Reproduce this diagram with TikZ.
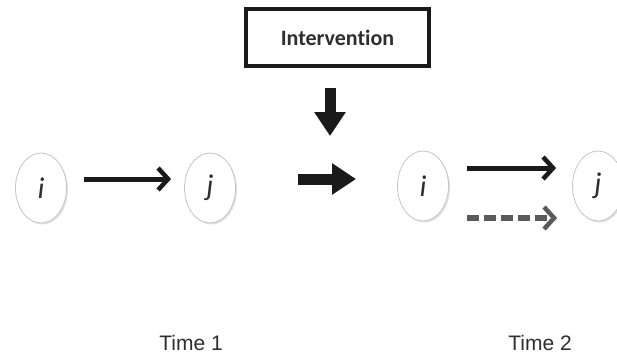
\documentclass[tikz,border=0pt]{standalone}
\usepackage{fontspec}
\setmainfont{Liberation Sans}
\newfontfamily\carlito[Ligatures={NoCommon,NoRare,NoContextual}]{Carlito}
\usetikzlibrary{arrows.meta,shapes.geometric,shadows,calc}
\definecolor{ink}{HTML}{1A1A1A}
\definecolor{txt}{HTML}{2E2E2E}
\definecolor{dashgray}{HTML}{5A5A5A}
\tikzset{
  oval/.style={ellipse, draw=gray!45, line width=0.8pt, fill=white, minimum width=51pt, minimum height=70pt, inner sep=0pt,
    drop shadow={shadow xshift=1.5pt, shadow yshift=-1.5pt, opacity=0.25, fill=gray},
    font=\carlito\itshape\fontsize{30}{30}\selectfont, text=txt},
  thinarrow/.style={draw=ink, line width=5pt, -{Straight Barb[length=10pt,width=22pt,line width=4.5pt]}},
  dasharrow/.style={draw=dashgray, line width=5.5pt, dash pattern=on 12pt off 5pt, -{Straight Barb[length=10pt,width=22pt,line width=4.5pt]}},
  bigarrow/.style={draw=ink, line width=11pt, -{Triangle[length=24pt,width=30pt]}},
  timelabel/.style={font=\fontsize{21}{21}\selectfont, text=txt},
  interbox/.style={draw=ink, line width=4pt, minimum width=183pt, minimum height=57pt, font=\carlito\bfseries\fontsize{22}{22}\selectfont, text=txt}
}
\begin{document}
\begin{tikzpicture}[x=1pt,y=-1pt]
\useasboundingbox (0,0) rectangle (617,357);
\node[oval] (i1) at (41,188) {i};
\node[oval] (j1) at (210,188) {j};
\node[oval] (i2) at (423,186) {i};
\node[oval] (j2) at (598,186) {j};
\node[interbox] (box) at (337.5,37.5) {Intervention};
\coordinate (dtop) at (330,88);
\coordinate (dbot) at (330,136);
\coordinate (hl) at (298,179);
\coordinate (hr) at (356,179);
\draw[bigarrow] (dtop) -- (dbot);
\draw[bigarrow] (hl) -- (hr);
\draw[thinarrow, shorten <=17pt, shorten >=13pt] ([yshift=9pt]i1.east) -- ([yshift=9pt]j1.west);
\draw[thinarrow, shorten <=18pt, shorten >=16pt] ([yshift=18pt]i2.east) -- ([yshift=18pt]j2.west);
\draw[dasharrow, shorten <=18pt, shorten >=15pt] ([yshift=-32pt]i2.east) -- ([yshift=-32pt]j2.west);
\node[timelabel] (t1) at (191,343) {Time 1};
\node[timelabel] (t2) at (540,343) {Time 2};
\end{tikzpicture}
\end{document}
